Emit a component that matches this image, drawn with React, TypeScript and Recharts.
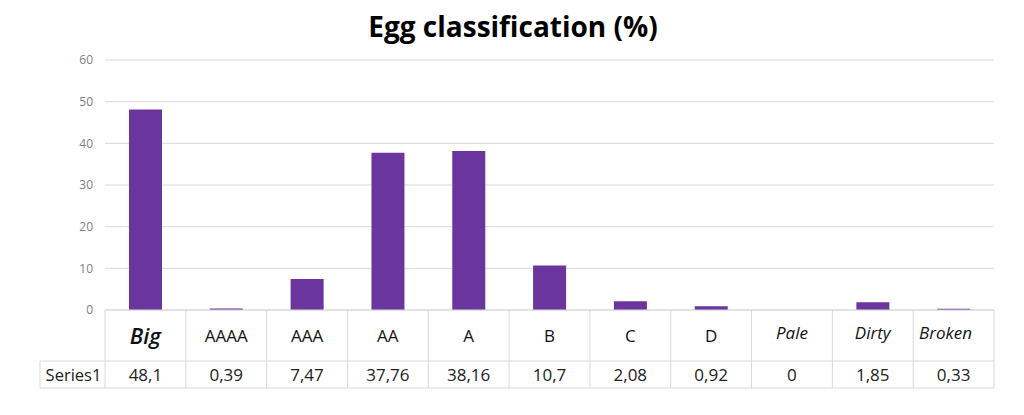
import React from 'react';
import { BarChart, Bar, XAxis, YAxis, CartesianGrid } from 'recharts';

const categories = ['Big', 'AAAA', 'AAA', 'AA', 'A', 'B', 'C', 'D', 'Pale', 'Dirty', 'Broken'];
const values = [48.1, 0.39, 7.47, 37.76, 38.16, 10.7, 2.08, 0.92, 0, 1.85, 0.33];
const seriesName = 'Series1';
const yTicks = [0, 10, 20, 30, 40, 50, 60];
const italicCategories = ['Big', 'Pale', 'Dirty', 'Broken'];

const data = categories.map((name, i) => ({ name, value: values[i] }));

const CHART_W = 1008;
const CHART_H = 392;
const MARGIN = { top: 52, right: 22, left: 37, bottom: 4 };
const Y_AXIS_W = 60;
const PLOT_W = CHART_W - MARGIN.left - MARGIN.right - Y_AXIS_W;
const BAND = PLOT_W / categories.length;
const ROW1_H = 51;
const ROW2_H = 27;
const NAME_CELL_W = 65;
const BORDER = '#d9d9d9';
const FONT = '"Open Sans", sans-serif';
const BAR_COLOR = '#6b359e';

const fmt = (v: number) => String(v).replace('.', ',');

// Data table drawn under each category: label row + value row
const TableTick = (props: any) => {
  const { x, y, payload, index } = props;
  const left = x - BAND / 2;
  const right = x + BAND / 2;
  const last = index === categories.length - 1;
  const name: string = payload.value;
  const isItalic = italicCategories.includes(name);
  const isBig = name === 'Big';
  const value = values[index];
  return (
    <g>
      <line x1={left} x2={right} y1={y} y2={y} stroke={BORDER} />
      <line x1={left} x2={right} y1={y + ROW1_H} y2={y + ROW1_H} stroke={BORDER} />
      <line x1={left} x2={right} y1={y + ROW1_H + ROW2_H} y2={y + ROW1_H + ROW2_H} stroke={BORDER} />
      <line x1={left} x2={left} y1={y} y2={y + ROW1_H + ROW2_H} stroke={BORDER} />
      {last && <line x1={right} x2={right} y1={y} y2={y + ROW1_H + ROW2_H} stroke={BORDER} />}
      {index === 0 && (
        <g>
          <line x1={left - NAME_CELL_W} x2={left} y1={y + ROW1_H} y2={y + ROW1_H} stroke={BORDER} />
          <line x1={left - NAME_CELL_W} x2={left} y1={y + ROW1_H + ROW2_H} y2={y + ROW1_H + ROW2_H} stroke={BORDER} />
          <line x1={left - NAME_CELL_W} x2={left - NAME_CELL_W} y1={y + ROW1_H} y2={y + ROW1_H + ROW2_H} stroke={BORDER} />
          <text
            x={left - NAME_CELL_W / 2 + 1}
            y={y + ROW1_H + ROW2_H / 2}
            textAnchor="middle"
            dominantBaseline="central"
            fontFamily={FONT}
            fontSize={16.5}
            fill="#222"
          >
            {seriesName}
          </text>
        </g>
      )}
      <text
        x={name === 'Broken' ? x - 8 : x}
        y={y + (isItalic && !isBig ? 22 : 25)}
        textAnchor="middle"
        dominantBaseline="central"
        fontFamily={FONT}
        fontSize={isBig ? 22 : 17}
        fontStyle={isItalic ? 'italic' : 'normal'}
        fontWeight={isBig ? 600 : isItalic ? 500 : 400}
        fill="#111"
      >
        {name}
      </text>
      <text
        x={x}
        y={y + ROW1_H + ROW2_H / 2}
        textAnchor="middle"
        dominantBaseline="central"
        fontFamily={FONT}
        fontSize={17}
        fill="#222"
      >
        {fmt(value)}
      </text>
    </g>
  );
};

export default function App() {
  return (
    <div style={{ position: 'relative', width: CHART_W, height: CHART_H }}>
      <div
        style={{
          position: 'absolute',
          top: 0,
          left: 0,
          width: CHART_W,
          textAlign: 'center',
          fontFamily: FONT,
          fontWeight: 700,
          fontSize: 28,
          lineHeight: '36px',
          color: '#000',
          marginLeft: 1,
        }}
      >
        Egg classification (%)
      </div>
      <BarChart width={CHART_W} height={CHART_H} data={data} margin={MARGIN}>
        <CartesianGrid vertical={false} stroke={BORDER} />
        <XAxis
          dataKey="name"
          axisLine={false}
          tickLine={false}
          tickSize={0}
          tickMargin={0}
          height={86}
          interval={0}
          tick={<TableTick />}
        />
        <YAxis
          domain={[0, 60]}
          ticks={yTicks}
          width={Y_AXIS_W}
          axisLine={false}
          tickLine={false}
          tickSize={0}
          tickMargin={12}
          tick={{ fill: '#7f7f7f', fontSize: 12, fontFamily: FONT }}
        />
        <Bar dataKey="value" fill={BAR_COLOR} barSize={33} isAnimationActive={false} />
      </BarChart>
    </div>
  );
}
